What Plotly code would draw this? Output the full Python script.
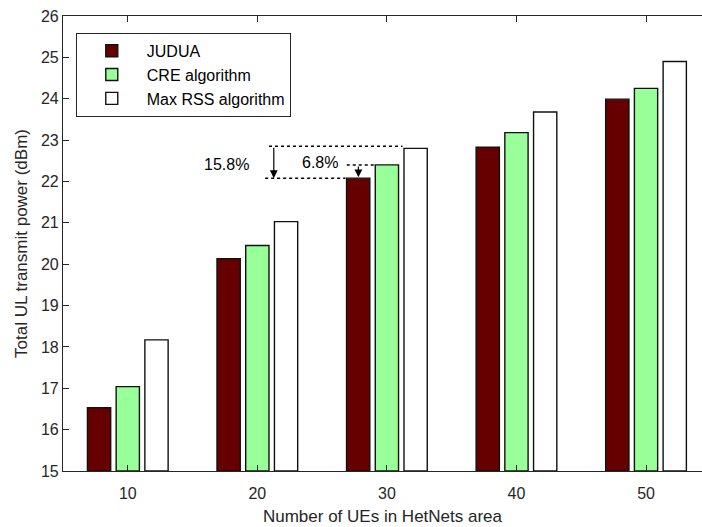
import plotly.graph_objects as go

categories = ["10", "20", "30", "40", "50"]
positions = [1, 2, 3, 4, 5]
judua = [16.53, 20.13, 22.08, 22.83, 23.99]
cre = [17.04, 20.45, 22.40, 23.18, 24.25]
maxrss = [18.17, 21.03, 22.80, 23.68, 24.90]
series_names = ["JUDUA", "CRE algorithm", "Max RSS algorithm"]
series_colors = ["#660000", "#99FF99", "#FFFFFF"]
gap_labels = ["15.8%", "6.8%"]

FONT = "Liberation Sans, Arial, sans-serif"
TXT = "#262626"

fig = go.Figure()
for name, vals, col in zip(series_names, [judua, cre, maxrss], series_colors):
    fig.add_trace(go.Bar(
        x=positions, y=[v - 15 for v in vals], base=15, name=name,
        marker=dict(color=col, line=dict(color="#111111", width=1.4)),
    ))

# dotted reference lines
dot = dict(color="black", width=1.5, dash="dot")
fig.add_shape(type="line", x0=2.09, x1=3.12, y0=maxrss[2] + 0.05, y1=maxrss[2] + 0.05, line=dot)
fig.add_shape(type="line", x0=2.06, x1=2.68, y0=judua[2], y1=judua[2], line=dot)
fig.add_shape(type="line", x0=2.69, x1=2.90, y0=cre[2], y1=cre[2], line=dot)

# arrows
fig.add_annotation(x=2.127, y=judua[2], ax=2.127, ay=maxrss[2] + 0.05,
                   xref="x", yref="y", axref="x", ayref="y", text="",
                   showarrow=True, arrowhead=2, arrowsize=1.3, arrowwidth=1.2, arrowcolor="black")
fig.add_annotation(x=2.78, y=judua[2] + 0.02, ax=2.78, ay=cre[2],
                   xref="x", yref="y", axref="x", ayref="y", text="",
                   showarrow=True, arrowhead=2, arrowsize=1.3, arrowwidth=1.2, arrowcolor="black")
fig.add_annotation(x=1.762, y=22.40, text=gap_labels[0], showarrow=False,
                   font=dict(family=FONT, size=16, color="black"))
fig.add_annotation(x=2.483, y=22.45, text=gap_labels[1], showarrow=False,
                   font=dict(family=FONT, size=16, color="black"))

fig.update_layout(
    width=702, height=527,
    margin=dict(l=63, r=0, t=16, b=56),
    paper_bgcolor="white", plot_bgcolor="white",
    barmode="group", bargap=0.335, bargroupgap=0.19,
    font=dict(family=FONT, size=16, color=TXT),
    showlegend=True,
    legend=dict(x=0.02, y=0.963, xanchor="left", yanchor="top",
                bgcolor="white", bordercolor=TXT, borderwidth=1,
                font=dict(family=FONT, size=16, color="black"),
                tracegroupgap=0, itemwidth=60),
)
fig.update_xaxes(
    range=[0.5, 5.432], tickvals=positions, ticktext=categories,
    showline=True, linecolor=TXT, linewidth=1.2, mirror="ticks",
    ticks="inside", ticklen=6, tickcolor=TXT, showgrid=False, zeroline=False,
    ticklabelstandoff=8,
    title=dict(text="Number of UEs in HetNets area", standoff=8,
               font=dict(family=FONT, size=17, color=TXT)),
    tickfont=dict(family=FONT, size=16, color=TXT),
)
fig.update_yaxes(
    range=[15, 26], dtick=1, tick0=15,
    showline=True, linecolor=TXT, linewidth=1.2, mirror=False,
    ticks="inside", ticklen=6, tickcolor=TXT, showgrid=False, zeroline=False,
    title=dict(text="Total UL transmit power (dBm)", standoff=8,
               font=dict(family=FONT, size=17, color=TXT)),
    tickfont=dict(family=FONT, size=16, color=TXT),
)

fig.write_html("out.html")
